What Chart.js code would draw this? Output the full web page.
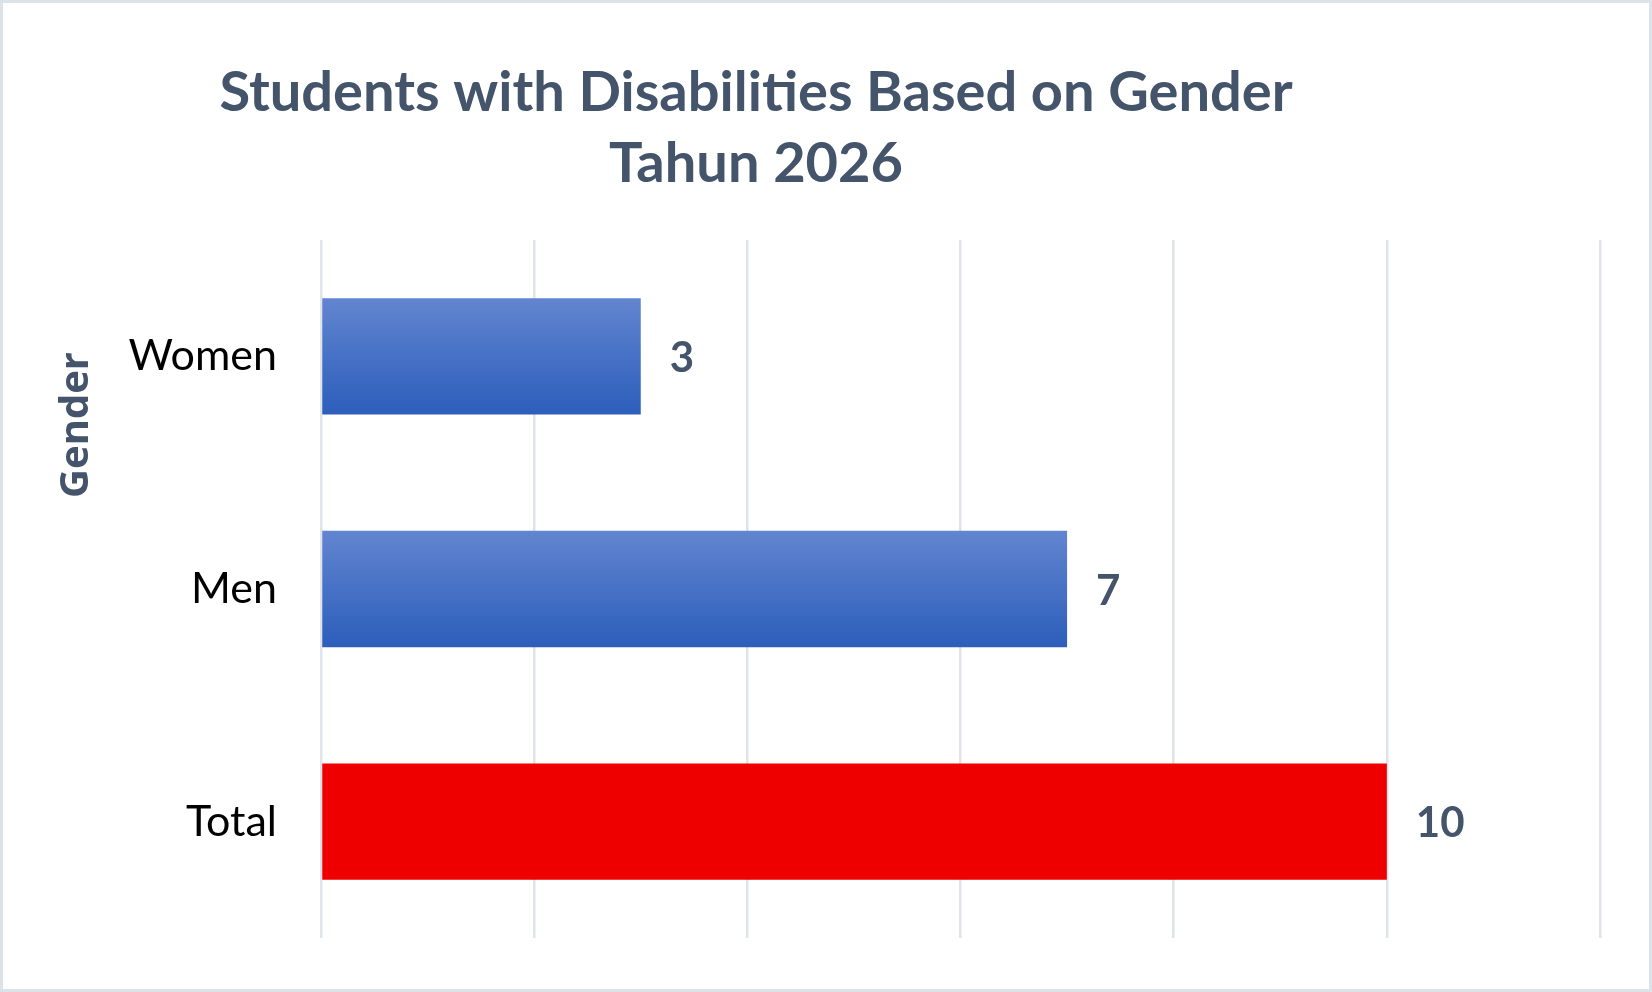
<!DOCTYPE html>
<html>
<head>
<meta charset="utf-8">
<script src="https://cdn.jsdelivr.net/npm/chart.js@4.4.1/dist/chart.umd.min.js"></script>
<style>
  html, body { margin: 0; padding: 0; background: #fff; }
  #wrap { width: 1652px; height: 992px; position: relative; }
</style>
</head>
<body>
<div id="wrap"><canvas id="myChart"></canvas></div>
<script>
const categories = ["Women", "Men", "Total"];
const values = [3, 7, 10];
const xTicks = [0, 2, 4, 6, 8, 10, 12];
const titleLines = ["Students with Disabilities Based on Gender", "Tahun 2026"];
const axisTitle = "Gender";

const slate = "#44546a";

function barColor(ctx) {
  if (ctx.dataIndex === categories.length - 1) return "#ee0000"; // total bar is solid red
  let chart = ctx.chart;
  let y = chart.scales.y;
  if (!chart.chartArea || !y) return "#4472c4";
  let c = y.getPixelForValue(ctx.dataIndex);
  let half = (y.height / categories.length) * 0.25;
  let g = chart.ctx.createLinearGradient(0, c - half, 0, c + half);
  g.addColorStop(0, "#6285d0");
  g.addColorStop(1, "#2c5ebb");
  return g;
}

// frame, titles and value labels drawn on top of the chart
const decor = {
  id: "decor",
  beforeDraw(chart) {
    let ctx = chart.ctx;
    ctx.save();
    ctx.fillStyle = "#fff";
    ctx.fillRect(0, 0, chart.width, chart.height);
    ctx.strokeStyle = "#dde2e9";
    ctx.lineWidth = 3;
    ctx.strokeRect(1.5, 1.5, chart.width - 3, chart.height - 3);
    ctx.restore();
  },
  afterDraw(chart) {
    let ctx = chart.ctx;
    let area = chart.chartArea;
    ctx.save();
    ctx.fillStyle = slate;
    ctx.textAlign = "center";
    ctx.textBaseline = "middle";
    ctx.font = "bold 56px Lato";
    ctx.fillText(titleLines[0], 756, 93);
    ctx.fillText(titleLines[1], 756, 164);

    // axis title, rotated
    ctx.save();
    ctx.translate(77, area.top + (area.bottom - area.top) * 0.265);
    ctx.rotate(-Math.PI / 2);
    ctx.font = "bold 40px 'Open Sans'";
    ctx.fillText(axisTitle, 0, 0);
    ctx.restore();

    // value labels
    ctx.textAlign = "left";
    ctx.font = "bold 42px Lato";
    chart.getDatasetMeta(0).data.forEach((bar, i) => {
      ctx.fillText(values[i], bar.x + 29, bar.y + 2);
    });
    ctx.restore();
  }
};

let ctx = document.getElementById("myChart").getContext("2d");

let myChart = new Chart(ctx, {
  type: "bar",
  data: {
    labels: categories,
    datasets: [{
      data: values,
      backgroundColor: barColor,
      borderWidth: 0,
      barPercentage: 0.5,
      categoryPercentage: 1
    }]
  },
  options: {
    indexAxis: "y",
    responsive: true,
    maintainAspectRatio: false,
    animation: false,
    devicePixelRatio: 1,
    layout: { padding: { top: 240, right: 52, bottom: 54, left: 0 } },
    plugins: {
      legend: { display: false },
      title: { display: false },
      tooltip: { enabled: false }
    },
    scales: {
      x: {
        min: xTicks[0],
        max: xTicks[xTicks.length - 1],
        ticks: { stepSize: xTicks[1] - xTicks[0], display: false },
        grid: { color: "#dfe3ea", lineWidth: 2.5, drawTicks: false },
        border: { display: false },
        afterFit: scale => { scale.height = 0; }
      },
      y: {
        grid: { display: false, drawTicks: false },
        border: { display: false },
        ticks: {
          color: "#000",
          font: { family: "Lato", size: 43 },
          padding: 44
        },
        afterFit: scale => {
          scale.width = 321;
          scale.paddingTop = 0; // labels must not push the plot area in
          scale.paddingBottom = 0;
        }
      }
    }
  },
  plugins: [decor]
});
</script>
</body>
</html>
